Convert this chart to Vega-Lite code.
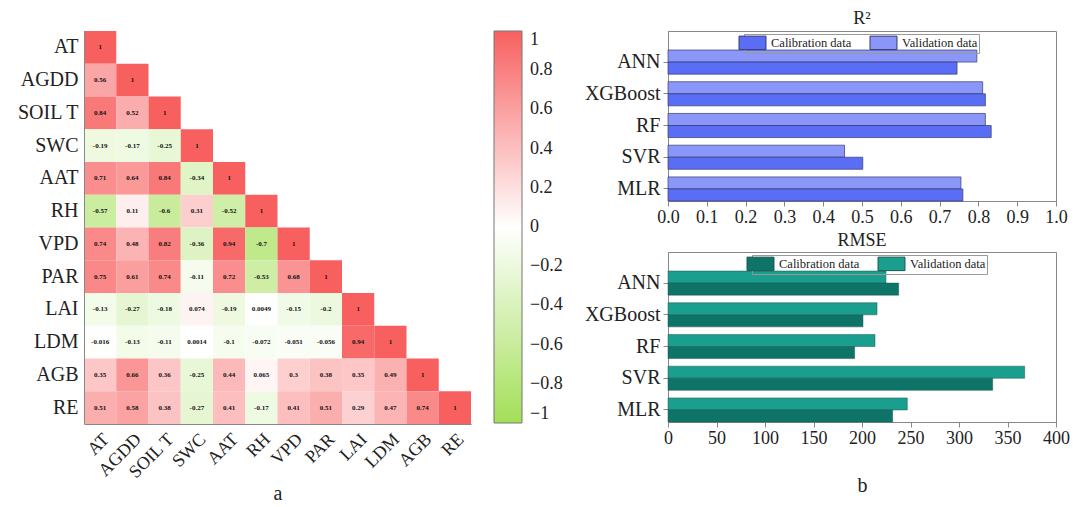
{
  "$schema": "https://vega.github.io/schema/vega-lite/v6.json",
  "background": "white",
  "padding": {"left": 16, "top": 9, "right": 5, "bottom": 5},
  "config": {
    "font": "Liberation Serif",
    "axis": {"labelFont": "Liberation Serif", "titleFont": "Liberation Serif", "labelColor": "#222", "titleColor": "#222", "domainColor": "#888", "tickColor": "#888", "grid": false, "titleFontWeight": "normal"},
    "legend": {"labelFont": "Liberation Serif", "titleFont": "Liberation Serif"},
    "title": {"font": "Liberation Serif", "fontWeight": "normal", "color": "#222"}
  },
  "datasets": {
    "corr": [
      {"row": "AT", "col": "AT", "r": 1},
      {"row": "AGDD", "col": "AT", "r": 0.56}, {"row": "AGDD", "col": "AGDD", "r": 1},
      {"row": "SOIL T", "col": "AT", "r": 0.84}, {"row": "SOIL T", "col": "AGDD", "r": 0.52}, {"row": "SOIL T", "col": "SOIL T", "r": 1},
      {"row": "SWC", "col": "AT", "r": -0.19}, {"row": "SWC", "col": "AGDD", "r": -0.17}, {"row": "SWC", "col": "SOIL T", "r": -0.25}, {"row": "SWC", "col": "SWC", "r": 1},
      {"row": "AAT", "col": "AT", "r": 0.71}, {"row": "AAT", "col": "AGDD", "r": 0.64}, {"row": "AAT", "col": "SOIL T", "r": 0.84}, {"row": "AAT", "col": "SWC", "r": -0.34}, {"row": "AAT", "col": "AAT", "r": 1},
      {"row": "RH", "col": "AT", "r": -0.57}, {"row": "RH", "col": "AGDD", "r": 0.11}, {"row": "RH", "col": "SOIL T", "r": -0.6}, {"row": "RH", "col": "SWC", "r": 0.31}, {"row": "RH", "col": "AAT", "r": -0.52}, {"row": "RH", "col": "RH", "r": 1},
      {"row": "VPD", "col": "AT", "r": 0.74}, {"row": "VPD", "col": "AGDD", "r": 0.48}, {"row": "VPD", "col": "SOIL T", "r": 0.82}, {"row": "VPD", "col": "SWC", "r": -0.36}, {"row": "VPD", "col": "AAT", "r": 0.94}, {"row": "VPD", "col": "RH", "r": -0.7}, {"row": "VPD", "col": "VPD", "r": 1},
      {"row": "PAR", "col": "AT", "r": 0.75}, {"row": "PAR", "col": "AGDD", "r": 0.61}, {"row": "PAR", "col": "SOIL T", "r": 0.74}, {"row": "PAR", "col": "SWC", "r": -0.11}, {"row": "PAR", "col": "AAT", "r": 0.72}, {"row": "PAR", "col": "RH", "r": -0.53}, {"row": "PAR", "col": "VPD", "r": 0.68}, {"row": "PAR", "col": "PAR", "r": 1},
      {"row": "LAI", "col": "AT", "r": -0.13}, {"row": "LAI", "col": "AGDD", "r": -0.27}, {"row": "LAI", "col": "SOIL T", "r": -0.18}, {"row": "LAI", "col": "SWC", "r": 0.074}, {"row": "LAI", "col": "AAT", "r": -0.19}, {"row": "LAI", "col": "RH", "r": 0.0049}, {"row": "LAI", "col": "VPD", "r": -0.15}, {"row": "LAI", "col": "PAR", "r": -0.2}, {"row": "LAI", "col": "LAI", "r": 1},
      {"row": "LDM", "col": "AT", "r": -0.016}, {"row": "LDM", "col": "AGDD", "r": -0.13}, {"row": "LDM", "col": "SOIL T", "r": -0.11}, {"row": "LDM", "col": "SWC", "r": 0.0014}, {"row": "LDM", "col": "AAT", "r": -0.1}, {"row": "LDM", "col": "RH", "r": -0.072}, {"row": "LDM", "col": "VPD", "r": -0.051}, {"row": "LDM", "col": "PAR", "r": -0.056}, {"row": "LDM", "col": "LAI", "r": 0.94}, {"row": "LDM", "col": "LDM", "r": 1},
      {"row": "AGB", "col": "AT", "r": 0.35}, {"row": "AGB", "col": "AGDD", "r": 0.66}, {"row": "AGB", "col": "SOIL T", "r": 0.36}, {"row": "AGB", "col": "SWC", "r": -0.25}, {"row": "AGB", "col": "AAT", "r": 0.44}, {"row": "AGB", "col": "RH", "r": 0.065}, {"row": "AGB", "col": "VPD", "r": 0.3}, {"row": "AGB", "col": "PAR", "r": 0.38}, {"row": "AGB", "col": "LAI", "r": 0.35}, {"row": "AGB", "col": "LDM", "r": 0.49}, {"row": "AGB", "col": "AGB", "r": 1},
      {"row": "RE", "col": "AT", "r": 0.51}, {"row": "RE", "col": "AGDD", "r": 0.58}, {"row": "RE", "col": "SOIL T", "r": 0.38}, {"row": "RE", "col": "SWC", "r": -0.27}, {"row": "RE", "col": "AAT", "r": 0.41}, {"row": "RE", "col": "RH", "r": -0.17}, {"row": "RE", "col": "VPD", "r": 0.41}, {"row": "RE", "col": "PAR", "r": 0.51}, {"row": "RE", "col": "LAI", "r": 0.29}, {"row": "RE", "col": "LDM", "r": 0.47}, {"row": "RE", "col": "AGB", "r": 0.74}, {"row": "RE", "col": "RE", "r": 1}
    ],
    "bars": [
      {"model": "ANN", "set": "Validation data", "r2": 0.796, "rmse": 224.7},
      {"model": "ANN", "set": "Calibration data", "r2": 0.745, "rmse": 237.8},
      {"model": "XGBoost", "set": "Validation data", "r2": 0.811, "rmse": 215.5},
      {"model": "XGBoost", "set": "Calibration data", "r2": 0.818, "rmse": 201},
      {"model": "RF", "set": "Validation data", "r2": 0.818, "rmse": 213.4},
      {"model": "RF", "set": "Calibration data", "r2": 0.833, "rmse": 192.4},
      {"model": "SVR", "set": "Validation data", "r2": 0.455, "rmse": 367.7},
      {"model": "SVR", "set": "Calibration data", "r2": 0.502, "rmse": 334.7},
      {"model": "MLR", "set": "Validation data", "r2": 0.755, "rmse": 246.7},
      {"model": "MLR", "set": "Calibration data", "r2": 0.76, "rmse": 231.6}
    ]
  },
  "resolve": {"scale": {"color": "independent"}, "legend": {"color": "independent"}},
  "spacing": 20,
  "hconcat": [
    {
      "width": 387,
      "height": 393,
      "data": {"name": "corr"},
      "view": {"stroke": null},
      "encoding": {
        "x": {"field": "col", "type": "nominal", "sort": ["AT","AGDD","SOIL T","SWC","AAT","RH","VPD","PAR","LAI","LDM","AGB","RE"],
              "axis": {"title": "a", "titleFontSize": 20, "titlePadding": 2, "labelAngle": -45, "labelFontSize": 18, "ticks": false, "labelPadding": 6, "domainColor": "#888"}},
        "y": {"field": "row", "type": "nominal", "sort": ["AT","AGDD","SOIL T","SWC","AAT","RH","VPD","PAR","LAI","LDM","AGB","RE"],
              "axis": {"title": null, "labelFontSize": 20, "ticks": false, "labelPadding": 6, "domainColor": "#888"}}
      },
      "layer": [
        {
          "mark": {"type": "rect"},
          "encoding": {
            "color": {"field": "r", "type": "quantitative",
              "scale": {"domain": [-1, 0, 1], "range": ["#a3df58", "#ffffff", "#f86060"], "interpolate": "rgb"},
              "legend": {"title": null, "orient": "right", "offset": 23, "gradientLength": 392, "gradientThickness": 28, "labelFontSize": 18, "values": [-1,-0.8,-0.6,-0.4,-0.2,0,0.2,0.4,0.6,0.8,1], "format": "~g", "gradientStrokeColor": "#777", "gradientStrokeWidth": 1, "labelOffset": 8, "labelColor": "#222"}}
          }
        },
        {
          "mark": {"type": "text", "fontSize": 7, "fontWeight": "bold", "color": "#111"},
          "encoding": {"text": {"field": "r", "type": "nominal"}}
        }
      ]
    },
    {
      "resolve": {"scale": {"color": "independent"}, "legend": {"color": "independent"}},
      "spacing": 4,
      "vconcat": [
        {
          "width": 388,
          "height": 170,
          "data": {"name": "bars"},
          "title": {"text": "R²", "fontSize": 18, "offset": 3},
          "view": {"stroke": "#888"},
          "mark": {"type": "bar", "stroke": "#333a70", "strokeWidth": 0.7},
          "encoding": {
            "y": {"field": "model", "type": "nominal", "sort": ["ANN","XGBoost","RF","SVR","MLR"],
                  "scale": {"paddingInner": 0.24, "paddingOuter": 0.3, "align": 1},
                  "axis": {"title": null, "labelFontSize": 20, "labelPadding": 3, "tickSize": 5}},
            "yOffset": {"field": "set", "type": "nominal", "scale": {"domain": ["Validation data", "Calibration data"], "paddingInner": 0, "paddingOuter": 0}},
            "x": {"field": "r2", "type": "quantitative", "scale": {"domain": [0, 1], "nice": false},
                  "axis": {"title": null, "values": [0,0.1,0.2,0.3,0.4,0.5,0.6,0.7,0.8,0.9,1], "format": ".1f", "labelFontSize": 18, "tickSize": 5, "labelFlush": false}},
            "color": {"field": "set", "type": "nominal",
              "scale": {"domain": ["Calibration data", "Validation data"], "range": ["#5a6ef5", "#8a97f8"]},
              "legend": {"title": null, "orient": "none", "legendX": 76, "legendY": 3, "direction": "horizontal", "symbolType": "M-2,-1H2V1H-2Z", "symbolSize": 182, "symbolStrokeColor": "#333a70", "symbolStrokeWidth": 1, "labelFontSize": 12.5, "labelOffset": 11, "columnPadding": 16, "strokeColor": "#999", "padding": 1, "symbolOpacity": 1, "labelColor": "#222"}}
          }
        },
        {
          "width": 388,
          "height": 170,
          "data": {"name": "bars"},
          "title": {"text": "RMSE", "fontSize": 18, "offset": 2},
          "view": {"stroke": "#888"},
          "mark": {"type": "bar", "stroke": "#1d5a52", "strokeWidth": 0.5},
          "encoding": {
            "y": {"field": "model", "type": "nominal", "sort": ["ANN","XGBoost","RF","SVR","MLR"],
                  "scale": {"paddingInner": 0.24, "paddingOuter": 0.3, "align": 1},
                  "axis": {"title": null, "labelFontSize": 20, "labelPadding": 3, "tickSize": 5}},
            "yOffset": {"field": "set", "type": "nominal", "scale": {"domain": ["Validation data", "Calibration data"], "paddingInner": 0, "paddingOuter": 0}},
            "x": {"field": "rmse", "type": "quantitative", "scale": {"domain": [0, 400], "nice": false},
                  "axis": {"title": "b", "titleFontSize": 20, "titlePadding": 28, "values": [0,50,100,150,200,250,300,350,400], "labelFontSize": 18, "tickSize": 5, "labelFlush": false}},
            "color": {"field": "set", "type": "nominal",
              "scale": {"domain": ["Calibration data", "Validation data"], "range": ["#0e7468", "#1a9e8e"]},
              "legend": {"title": null, "orient": "none", "legendX": 84, "legendY": 3, "direction": "horizontal", "symbolType": "M-2,-1H2V1H-2Z", "symbolSize": 182, "symbolStrokeColor": "#1d5a52", "symbolStrokeWidth": 1, "labelFontSize": 12.5, "labelOffset": 11, "columnPadding": 16, "strokeColor": "#999", "padding": 1, "symbolOpacity": 1, "labelColor": "#222"}}
          }
        }
      ]
    }
  ]
}
